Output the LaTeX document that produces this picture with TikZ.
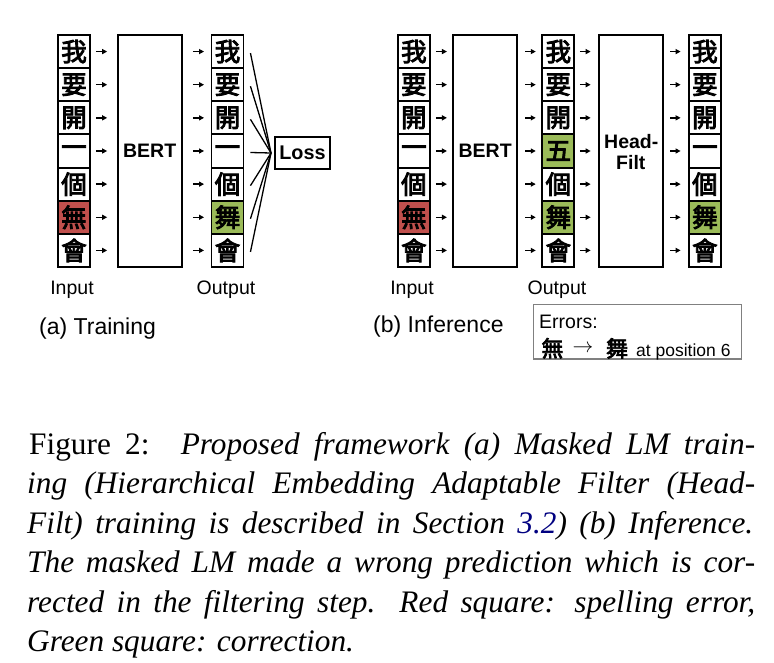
\documentclass[tikz,border=0pt]{standalone}
\usepackage{fontspec}
\setmainfont{Liberation Serif}
\newfontfamily\arial{Liberation Sans}
\newfontfamily\cjk{Noto Sans CJK TC}
\newfontfamily\cjkm{Noto Sans CJK TC}[FakeBold=3.5]
\usetikzlibrary{arrows.meta}
\definecolor{errred}{HTML}{C0504D}
\definecolor{okgreen}{HTML}{9BBB59}
\definecolor{linkblue}{rgb}{0,0,0.5}
\definecolor{boxgray}{HTML}{808080}
\begin{document}
\begin{tikzpicture}[x=1pt,y=-1pt,
  charbox/.style={draw,line width=1.9pt,minimum width=32pt,minimum height=33.14pt,inner sep=0pt,font=\cjkm\fontsize{25.5}{25.5}\selectfont},
  bigbox/.style={draw,line width=2.1pt,inner sep=0pt,minimum height=232pt,font=\arial\bfseries\fontsize{19.5}{21}\selectfont,align=center},
  arr/.style={line width=1.5pt,-{Triangle[length=5pt,width=5pt]}},
  lossline/.style={line width=1.3pt},
  lbl/.style={inner sep=0pt,anchor=base,font=\arial\fontsize{19.5}{21}\selectfont},
  sublbl/.style={inner sep=0pt,anchor=base west,font=\arial\fontsize{23}{25}\selectfont},
  capline/.style={inner sep=0pt,anchor=base west,font=\fontsize{31.3}{39.5}\selectfont}
]
\useasboundingbox (0,0) rectangle (774,662);

% ---------------- (a) Training ----------------
\node[bigbox,minimum width=64pt] (berta) at (149.7,151) {BERT};
\foreach \c [count=\i] in {我,要,開,一,個,無,會}{
  \pgfmathsetmacro\yy{35+33.14*(\i-0.5)}
  \ifnum\i=6 \def\fc{errred}\else\def\fc{white}\fi
  \node[charbox,fill=\fc] (ia\i) at (74,\yy) {\c};
}
\foreach \c [count=\i] in {我,要,開,一,個,舞,會}{
  \pgfmathsetmacro\yy{35+33.14*(\i-0.5)}
  \ifnum\i=6 \def\fc{okgreen}\else\def\fc{white}\fi
  \node[charbox,fill=\fc] (oa\i) at (227.5,\yy) {\c};
}
\node[draw,line width=2pt,minimum width=55pt,minimum height=32pt,inner sep=0pt,
      font=\arial\bfseries\fontsize{19.8}{21}\selectfont] (loss) at (302.5,153) {Loss};
\coordinate (lossin) at (271,153);
\foreach \i in {1,...,7}{
  \draw[arr,shorten <=5pt,shorten >=9.5pt] (ia\i.east) -- (ia\i.east -| berta.west);
  \draw[arr,shorten <=10pt,shorten >=6.5pt] (ia\i.east -| berta.east) -- (oa\i.west);
  \draw[lossline] ([xshift=6pt,yshift=-1.5pt]oa\i.east) -- (lossin);
}
\node[lbl] (inlA) at (72,294) {Input};
\node[lbl] (outlA) at (226,294) {Output};
\node[sublbl] (capA) at (39,334) {(a) Training};

% ---------------- (b) Inference ----------------
\node[bigbox,minimum width=64.3pt] (bertb) at (485.15,151) {BERT};
\node[bigbox,minimum width=63.7pt] (filt) at (630.85,151) {};
\node[inner sep=0pt,anchor=base,font=\arial\bfseries\fontsize{19.5}{21}\selectfont] (filtt1) at (631.3,148.3) {Head-};
\node[inner sep=0pt,anchor=base,font=\arial\bfseries\fontsize{19.5}{21}\selectfont] (filtt2) at (630.85,169.3) {Filt};
\foreach \c [count=\i] in {我,要,開,一,個,無,會}{
  \pgfmathsetmacro\yy{35+33.14*(\i-0.5)}
  \ifnum\i=6 \def\fc{errred}\else\def\fc{white}\fi
  \node[charbox,fill=\fc] (ib\i) at (413.85,\yy) {\c};
}
\foreach \c [count=\i] in {我,要,開,五,個,舞,會}{
  \pgfmathsetmacro\yy{35+33.14*(\i-0.5)}
  \ifnum\i=6 \def\fc{okgreen}\else\ifnum\i=4 \def\fc{okgreen}\else\def\fc{white}\fi\fi
  \node[charbox,fill=\fc] (ob\i) at (558.3,\yy) {\c};
}
\foreach \c [count=\i] in {我,要,開,一,個,舞,會}{
  \pgfmathsetmacro\yy{35+33.14*(\i-0.5)}
  \ifnum\i=6 \def\fc{okgreen}\else\def\fc{white}\fi
  \node[charbox,fill=\fc] (fb\i) at (704.85,\yy) {\c};
}
\foreach \i in {1,...,7}{
  \draw[arr,shorten <=5pt,shorten >=5pt] (ib\i.east) -- (ib\i.east -| bertb.west);
  \draw[arr,shorten <=7pt,shorten >=5.6pt] (ib\i.east -| bertb.east) -- (ob\i.west);
  \draw[arr,shorten <=4.7pt,shorten >=7.3pt] (ob\i.east) -- (ob\i.east -| filt.west);
  \draw[arr,shorten <=6.3pt,shorten >=7.3pt] (ob\i.east -| filt.east) -- (fb\i.west);
}
\node[lbl] (inlB) at (412,294) {Input};
\node[lbl] (outlB) at (557,294) {Output};
\node[sublbl] (capB) at (373,332) {(b) Inference};

% Errors box
\node[draw=boxgray,line width=1.2pt,minimum width=208.4pt,minimum height=54.7pt,inner sep=0pt]
  (errbox) at (637.5,331.65) {};
\node[inner sep=0pt,anchor=base west,font=\arial\fontsize{19.5}{21}\selectfont] (errt) at (539,328.3) {Errors:};
\node[inner sep=0pt,anchor=base,font=\cjkm\fontsize{22}{22}\selectfont] (errw) at (552.5,356.7) {無};
\node[inner sep=0pt,font=\fontsize{20}{20}\selectfont] (errarr) at (583,348.3) {$\rightarrow$};
\node[inner sep=0pt,anchor=base,font=\cjkm\fontsize{22}{22}\selectfont] (errr) at (617,356.7) {舞};
\node[inner sep=0pt,anchor=base west,font=\arial\fontsize{17.5}{19}\selectfont] (errp) at (636,356.7) {at position 6};

% ---------------- caption ----------------
\node[capline] (c1) at (29,454) {\makebox[726pt][s]{Figure 2:\hspace{8pt} \textit{Proposed framework (a) Masked LM train-}}};
\node[capline] (c2) at (27,493.5) {\makebox[728pt][s]{\textit{ing (Hierarchical Embedding Adaptable Filter (Head-}}};
\node[capline] (c3) at (27,533) {\makebox[726pt][s]{\textit{Filt) training is described in Section \textcolor{linkblue}{3.2}) (b) Inference.}}};
\node[capline] (c4) at (27,572.5) {\makebox[728pt][s]{\textit{The masked LM made a wrong prediction which is cor-}}};
\node[capline] (c5) at (27,612) {\makebox[728pt][s]{\textit{rected in the filtering step. Red square: spelling error,}}};
\node[capline] (c6) at (27,651.5) {\textit{Green square: correction.}};
\end{tikzpicture}
\end{document}
